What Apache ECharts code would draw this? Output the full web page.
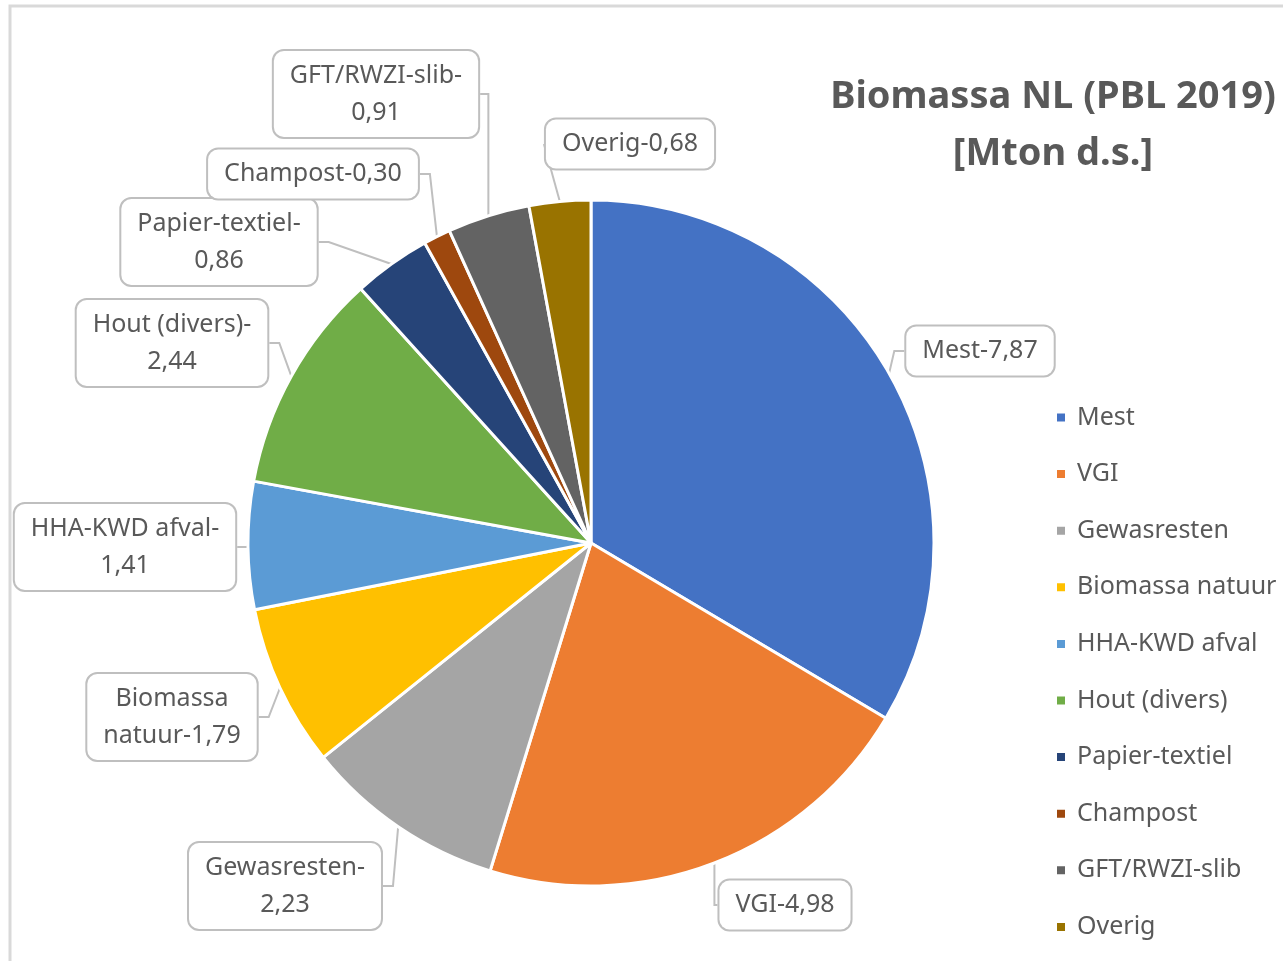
<!DOCTYPE html>
<html>
<head>
<meta charset="utf-8">
<script src="https://cdn.jsdelivr.net/npm/echarts@6/dist/echarts.min.js"></script>
<style>
  html, body { margin: 0; padding: 0; background: #fff; }
  #chart { width: 1283px; height: 961px; }
</style>
</head>
<body>
<div id="chart"></div>
<script>
// categorieen en waarden (Mton d.s.)
var categories = ['Mest', 'VGI', 'Gewasresten', 'Biomassa natuur', 'HHA-KWD afval',
                  'Hout (divers)', 'Papier-textiel', 'Champost', 'GFT/RWZI-slib', 'Overig'];
var values = [7.87, 4.98, 2.23, 1.79, 1.41, 2.44, 0.86, 0.30, 0.91, 0.68];
var colors = ['#4472C4', '#ED7D31', '#A5A5A5', '#FFC000', '#5B9BD5',
              '#70AD47', '#264478', '#9E480E', '#636363', '#997300'];

// afbreken van labeltekst: 0 = een regel, 1 = na streepje, 2 = na eerste woord
var labelWrap = [0, 0, 1, 2, 1, 1, 1, 0, 1, 0];
// plek van de labelboxen (middelpunt)
var labelPos = [[980, 351], [785, 905], [285, 886], [172, 717], [125, 547],
                [172, 343], [219, 242], [313, 174], [376, 94], [630, 144]];

function labelText(i) {
    var name = categories[i];
    var val = values[i].toFixed(2).replace('.', ',');
    if (labelWrap[i] === 1) return name + '-\n' + val;
    if (labelWrap[i] === 2) {
        var k = name.indexOf(' ');
        return name.substr(0, k) + '\n' + name.substr(k + 1) + '-' + val;
    }
    return name + '-' + val;
}

var myChart = echarts.init(document.getElementById('chart'));
var option = {
    backgroundColor: '#fff',
    color: colors,
    animation: false,
    title: {
        text: 'Biomassa NL (PBL 2019)\n[Mton d.s.]',
        left: 1048,
        top: 64,
        textAlign: 'center',
        textStyle: {
            fontFamily: 'Noto Sans',
            fontSize: 38,
            fontWeight: 'bold',
            color: '#595959',
            lineHeight: 57
        }
    },
    graphic: [{
        type: 'rect',
        shape: { x: 10, y: 6, width: 1290, height: 970 },
        style: { fill: 'none', stroke: '#d9d9d9', lineWidth: 3 },
        silent: true
    }],
    legend: {
        orient: 'vertical',
        left: 1050,
        top: 400,
        icon: 'rect',
        itemWidth: 10,
        itemHeight: 10,
        itemGap: 31.6,
        data: categories,
        textStyle: {
            fontFamily: 'Noto Sans',
            fontSize: 25,
            color: '#595959',
            lineHeight: 24,
            padding: [0, 0, 0, 6]
        }
    },
    series: [{
        type: 'pie',
        center: [591, 543],
        radius: 343,
        startAngle: 90,
        clockwise: true,
        avoidLabelOverlap: false,
        itemStyle: { borderColor: '#fff', borderWidth: 3 },
        label: {
            show: true,
            position: 'outside',
            formatter: function (p) { return labelText(p.dataIndex); },
            fontFamily: 'Noto Sans',
            fontSize: 25,
            lineHeight: 37,
            color: '#595959',
            align: 'center',
            backgroundColor: '#fff',
            borderColor: '#bfbfbf',
            borderWidth: 2,
            borderRadius: 10,
            padding: [6, 16, 6, 16]
        },
        labelLine: {
            show: true,
            length: 20,
            length2: 10,
            lineStyle: { color: '#bfbfbf', width: 2 }
        },
        labelLayout: function (params) {
            var pos = labelPos[params.dataIndex];
            return { x: pos[0], y: pos[1], align: 'center', verticalAlign: 'middle' };
        },
        data: categories.map(function (c, i) {
            return { name: c, value: values[i] };
        })
    }]
};
myChart.setOption(option);
</script>
</body>
</html>
